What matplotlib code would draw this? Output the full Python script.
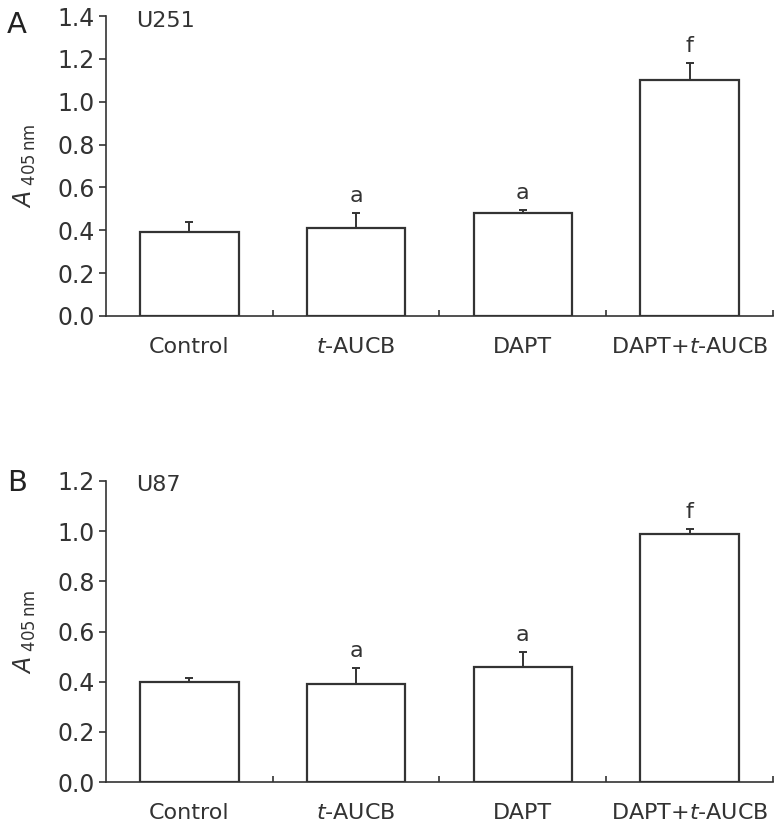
import matplotlib
matplotlib.use("Agg")
import matplotlib.pyplot as plt
import numpy as np

groups = ["Control", "$t$-AUCB", "DAPT", "DAPT+$t$-AUCB"]

# panel A, U251
u251_mean = [0.39, 0.41, 0.48, 1.10]
u251_err = [0.05, 0.07, 0.015, 0.08]
u251_marks = ["", "a", "a", "f"]

# panel B, U87
u87_mean = [0.40, 0.39, 0.46, 0.99]
u87_err = [0.015, 0.065, 0.06, 0.02]
u87_marks = ["", "a", "a", "f"]

plt.rcParams['font.family'] = ['DejaVu Sans']
ink = '#333333'


def panel(ax, means, errs, marks, ymax, cell):
    x = np.arange(len(groups))
    lower = [0] * len(errs)
    ax.bar(x, means, width=0.59, color='white', edgecolor=ink, linewidth=1.6,
           yerr=[lower, errs], zorder=2,
           error_kw=dict(ecolor=ink, elinewidth=1.4, capsize=3, capthick=1.4))
    for xi, m, e, t in zip(x, means, errs, marks):
        if t:
            ax.annotate(t, (xi, m + e), xytext=(0, 5), textcoords='offset points',
                        ha='center', va='bottom', fontsize=16, color=ink)
    ax.set_xlim(-0.5, len(groups) - 0.5)
    ax.set_ylim(0, ymax)
    ax.set_yticks(np.arange(0, ymax + 0.01, 0.2))
    ax.set_yticklabels(["%.1f" % v for v in np.arange(0, ymax + 0.01, 0.2)])
    ax.set_xticks(x)
    ax.set_xticklabels(groups)
    ax.set_xticks(np.arange(0.5, len(groups), 1.0), minor=True)
    ax.tick_params(axis='x', which='major', length=0, pad=15, labelsize=16, colors=ink)
    ax.tick_params(axis='x', which='minor', direction='in', length=4, width=1.2, color=ink)
    ax.tick_params(axis='y', direction='out', length=5, width=1.2, labelsize=17,
                   colors=ink, pad=3)
    for s in ['top', 'right']:
        ax.spines[s].set_visible(False)
    for s in ['left', 'bottom']:
        ax.spines[s].set_color(ink)
        ax.spines[s].set_linewidth(1.2)
    ax.set_ylabel(r'$\mathit{A}_{\ 405\,\mathrm{nm}}$', fontsize=17, color=ink, labelpad=14)
    ax.text(0.045, 0.985, cell, transform=ax.transAxes, ha='left', va='center',
            fontsize=16, color=ink)


fig = plt.figure(figsize=(7.81, 8.25), dpi=100)
axA = fig.add_axes([0.1357, 0.617, 0.854, 0.3636])
axB = fig.add_axes([0.1357, 0.052, 0.854, 0.365])

panel(axA, u251_mean, u251_err, u251_marks, 1.4, "U251")
panel(axB, u87_mean, u87_err, u87_marks, 1.2, "U87")

fig.text(0.022, 0.97, "A", fontsize=21, ha='center', va='center', color='#222222')
fig.text(0.022, 0.415, "B", fontsize=21, ha='center', va='center', color='#222222')

fig.savefig("out.png", dpi=100)
